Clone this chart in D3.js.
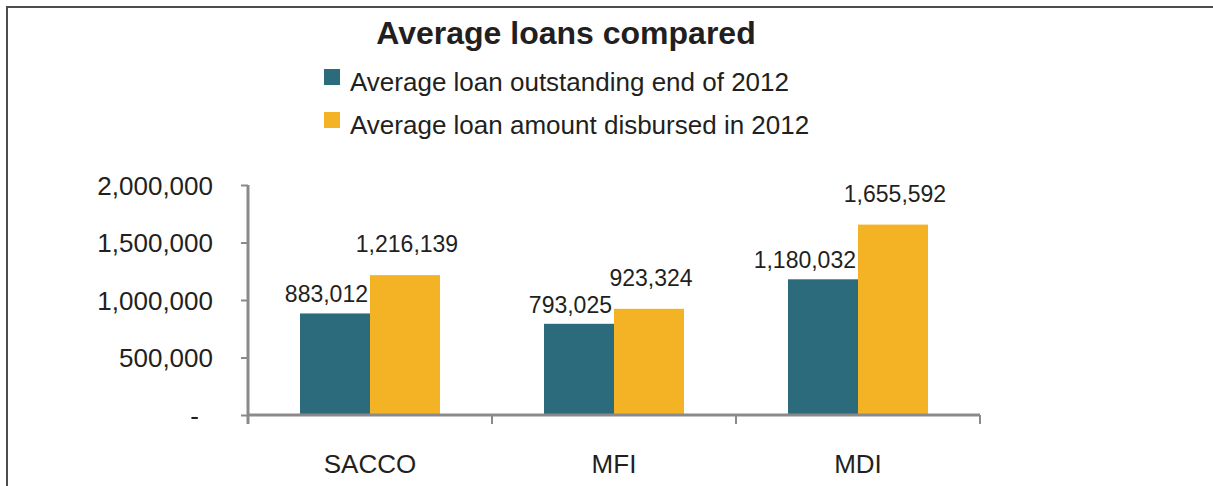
<!DOCTYPE html>
<html>
<head>
<meta charset="utf-8">
<script src="https://cdnjs.cloudflare.com/ajax/libs/d3/7.8.5/d3.min.js"></script>
<style>
  body { margin: 0; background: #fff; }
  text { font-family: "Liberation Sans", Arial, sans-serif; fill: #231f20; }
</style>
</head>
<body>
<svg id="chart" width="1213" height="486"></svg>
<script>
// data
var categories = ["SACCO", "MFI", "MDI"];
var seriesNames = ["Average loan outstanding end of 2012", "Average loan amount disbursed in 2012"];
var outstanding = [883012, 793025, 1180032];
var disbursed = [1216139, 923324, 1655592];
var yTicks = [0, 500000, 1000000, 1500000, 2000000];
var colors = ["#2b6b7c", "#f4b324"];

var svg = d3.select("#chart");

// outer frame (only top and left edges are visible)
svg.append("rect")
    .attr("x", 7).attr("y", 7)
    .attr("width", 1400).attr("height", 700)
    .attr("fill", "none")
    .attr("stroke", "#4d4d4d")
    .attr("stroke-width", 2);

svg.append("text")
    .attr("x", 566).attr("y", 44)
    .attr("text-anchor", "middle")
    .style("font-size", "32px")
    .style("font-weight", "bold")
    .text("Average loans compared");

// legend
var legend = svg.append("g");
seriesNames.forEach(function(name, i) {
    var row = legend.append("g").attr("transform", "translate(324," + (69 + i * 43) + ")");
    row.append("rect").attr("width", 16).attr("height", 16).attr("fill", colors[i]);
    row.append("text").attr("x", 26).attr("y", 22).style("font-size", "26px").text(name);
});

var x0 = d3.scaleBand().domain(categories).range([248, 980]);
var x1 = d3.scaleBand().domain([0, 1]).range([0, x0.bandwidth()]).paddingOuter(0.743);
var y = d3.scaleLinear().domain([0, 2000000]).range([415, 185]);

// y axis
var yAxis = svg.append("g")
    .attr("transform", "translate(248,0)")
    .call(d3.axisLeft(y).tickValues(yTicks).tickSize(7).tickPadding(28)
        .tickFormat(function(d) { return d === 0 ? "-" : d3.format(",")(d); }));
yAxis.selectAll("text").style("font-size", "26px").attr("dy", "0.36em");
yAxis.selectAll("text").filter(function(d) { return d === 0; }).attr("dx", "-14px");
yAxis.select(".domain").remove();
yAxis.selectAll(".tick line").attr("stroke", "#8a8a8a").attr("stroke-width", 2);
svg.append("line")
    .attr("x1", 248).attr("x2", 248)
    .attr("y1", y(2000000)).attr("y2", y(0) + 9)
    .attr("stroke", "#8a8a8a").attr("stroke-width", 3);

// bars
var data = categories.map(function(c, i) { return { cat: c, vals: [outstanding[i], disbursed[i]] }; });
var groups = svg.append("g").selectAll("g").data(data).enter().append("g")
    .attr("transform", function(d) { return "translate(" + x0(d.cat) + ",0)"; });

groups.selectAll("rect").data(function(d) { return d.vals; }).enter().append("rect")
    .attr("x", function(d, i) { return x1(i); })
    .attr("y", function(d) { return y(d); })
    .attr("width", x1.bandwidth())
    .attr("height", function(d) { return y(0) - y(d); })
    .attr("fill", function(d, i) { return colors[i]; });

groups.selectAll("text.val").data(function(d) { return d.vals; }).enter().append("text")
    .attr("class", "val")
    .attr("x", function(d, i) { return i === 0 ? x1(i) + x1.bandwidth() - 2 : x1(i) + x1.bandwidth() / 2 + 2; })
    .attr("y", function(d, i) { return y(d) - (i === 0 ? 11 : 23); })
    .attr("text-anchor", function(d, i) { return i === 0 ? "end" : "middle"; })
    .style("font-size", "23px")
    .text(function(d) { return d3.format(",")(d); });

// x axis
svg.append("line")
    .attr("x1", 248).attr("x2", 980)
    .attr("y1", y(0)).attr("y2", y(0))
    .attr("stroke", "#8a8a8a").attr("stroke-width", 3);
var bounds = categories.map(function(c) { return x0(c); }).concat([x0.range()[1]]);
svg.append("g").selectAll("line").data(bounds).enter().append("line")
    .attr("x1", function(d) { return d; }).attr("x2", function(d) { return d; })
    .attr("y1", y(0)).attr("y2", y(0) + 9)
    .attr("stroke", "#8a8a8a").attr("stroke-width", 2);
svg.append("g").selectAll("text").data(categories).enter().append("text")
    .attr("x", function(d) { return x0(d) + x0.bandwidth() / 2; })
    .attr("y", 473)
    .attr("text-anchor", "middle")
    .style("font-size", "26px")
    .text(function(d) { return d; });
</script>
</body>
</html>
